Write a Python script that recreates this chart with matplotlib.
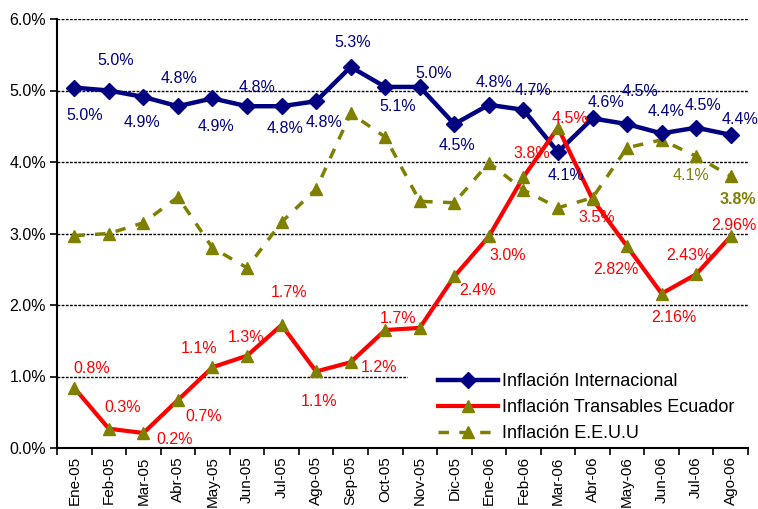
import matplotlib
matplotlib.use("Agg")
import matplotlib.pyplot as plt
from matplotlib.patches import Rectangle
import numpy as np

plt.rcParams['font.family'] = ['Liberation Sans', 'DejaVu Sans']

# datos
meses = ["Ene-05", "Feb-05", "Mar-05", "Abr-05", "May-05", "Jun-05", "Jul-05",
         "Ago-05", "Sep-05", "Oct-05", "Nov-05", "Dic-05", "Ene-06", "Feb-06",
         "Mar-06", "Abr-06", "May-06", "Jun-06", "Jul-06", "Ago-06"]

inf_internacional = [5.04, 5.00, 4.91, 4.78, 4.89, 4.78, 4.78, 4.85, 5.33, 5.05,
                     5.05, 4.53, 4.80, 4.73, 4.14, 4.61, 4.53, 4.40, 4.48, 4.38]
inf_transables = [0.84, 0.27, 0.21, 0.67, 1.13, 1.29, 1.72, 1.07, 1.20, 1.65,
                  1.68, 2.40, 2.96, 3.79, 4.48, 3.48, 2.82, 2.16, 2.43, 2.96]
inf_eeuu = [2.97, 3.00, 3.15, 3.51, 2.80, 2.52, 3.16, 3.62, 4.68, 4.35,
            3.45, 3.43, 3.99, 3.61, 3.36, 3.50, 4.20, 4.31, 4.08, 3.80]

etq_internacional = ["5.0%", "5.0%", "4.9%", "4.8%", "4.9%", "4.8%", "4.8%", "4.8%",
                     "5.3%", "5.1%", "5.0%", "4.5%", "4.8%", "4.7%", "4.1%", "4.6%",
                     "4.5%", "4.4%", "4.5%", "4.4%"]
etq_transables = ["0.8%", "0.3%", "0.2%", "0.7%", "1.1%", "1.3%", "1.7%", "1.1%",
                  "1.2%", "1.7%", "", "2.4%", "3.0%", "3.8%", "4.5%", "3.5%",
                  "2.82%", "2.16%", "2.43%", "2.96%"]
etq_eeuu = [""] * 18 + ["4.1%", "3.8%"]

# desplazamientos de las etiquetas (pixeles, y hacia abajo)
off_internacional = [(10, 28), (7, -30), (-1, 26), (1, -28), (4, 28), (10, -19), (3, 22),
                     (8, 21), (2, -24), (12, 20), (14, -13), (3, 21), (5, -22), (10, -19),
                     (8, 24), (13, -16), (13, -33), (4, -22), (7, -22), (9, -15)]
off_transables = [(17, -19), (14, -21), (31, 7), (26, 16), (-13, -19), (-1, -18), (7, -33),
                  (3, 30), (28, 5), (13, -12), (0, 0), (23, 14), (19, 19), (8, -24),
                  (12, -9), (4, 18), (-11, 23), (12, 24), (-7, -19), (3, -11)]
off_eeuu = [(0, 0)] * 18 + [(-5, 19), (7, 23)]

AZUL = '#000080'
ROJO = '#FF0000'
OLIVA = '#808000'

fig = plt.figure(figsize=(7.58, 5.09), dpi=100)
ax = fig.add_axes([57 / 758, 1 - 448 / 509, 691 / 758, 429 / 509])

x = np.arange(len(meses))

ax.plot(x, inf_eeuu, color=OLIVA, lw=2.5, linestyle=(0, (3, 3)), marker='^',
        markersize=9, markerfacecolor=OLIVA, markeredgecolor=OLIVA,
        label='Inflación E.E.U.U', zorder=3)
ax.plot(x, inf_internacional, color=AZUL, lw=3.2, marker='D', markersize=8,
        markerfacecolor=AZUL, markeredgecolor=AZUL,
        label='Inflación Internacional', zorder=4)
ax.plot(x, inf_transables, color=ROJO, lw=3, marker='^', markersize=9,
        markerfacecolor=OLIVA, markeredgecolor=OLIVA,
        label='Inflación Transables Ecuador', zorder=5)

def etiquetas(valores, textos, offs, color, negrita=()):
    for i, (v, t, o) in enumerate(zip(valores, textos, offs)):
        if not t:
            continue
        ax.annotate(t, (i, v), xytext=(o[0], -o[1]), textcoords='offset pixels',
                    ha='center', va='center', fontsize=11.5, color=color,
                    fontweight='bold' if i in negrita else 'normal', zorder=6)

etiquetas(inf_internacional, etq_internacional, off_internacional, AZUL)
etiquetas(inf_transables, etq_transables, off_transables, ROJO)
etiquetas(inf_eeuu, etq_eeuu, off_eeuu, OLIVA, negrita=(len(inf_eeuu) - 1,))

ax.set_xlim(-0.5, len(meses) - 0.5)
ax.set_ylim(0, 6)
ax.set_yticks(np.arange(0, 7, 1))
ax.set_yticklabels([f"{v:.1f}%" for v in np.arange(0, 7, 1)], fontsize=11.5)
ax.set_xticks(x)
ax.set_xticklabels(meses, rotation=90, fontsize=11)
ax.set_xticks(np.arange(-0.5, len(meses), 1), minor=True)
ax.tick_params(axis='x', which='major', length=0, pad=6)
ax.tick_params(axis='x', which='minor', length=5, width=1.2, direction='out')
ax.tick_params(axis='y', length=5, width=1.2, direction='out', pad=3)

ax.set_axisbelow(True)
ax.yaxis.grid(True, color='black', lw=1, linestyle=(0, (2, 1)))
for s in ['top', 'right']:
    ax.spines[s].set_visible(False)
for s in ['left', 'bottom']:
    ax.spines[s].set_linewidth(1.5)
    ax.spines[s].set_zorder(7)

# caja blanca de la leyenda
ax.add_patch(Rectangle((408, 509 - 447), 340, 85, transform=None,
                       facecolor='white', edgecolor='none', zorder=1))

h, l = ax.get_legend_handles_labels()
orden = [1, 2, 0]
fig.legend([h[k] for k in orden], [l[k] for k in orden], loc='upper left',
           bbox_to_anchor=(438 / 758, 1 - 373 / 509), frameon=False,
           fontsize=13, handlelength=3.3, handletextpad=0.25, borderpad=0,
           borderaxespad=0, labelspacing=0.5, numpoints=1)

fig.savefig('out.png', dpi=100)
